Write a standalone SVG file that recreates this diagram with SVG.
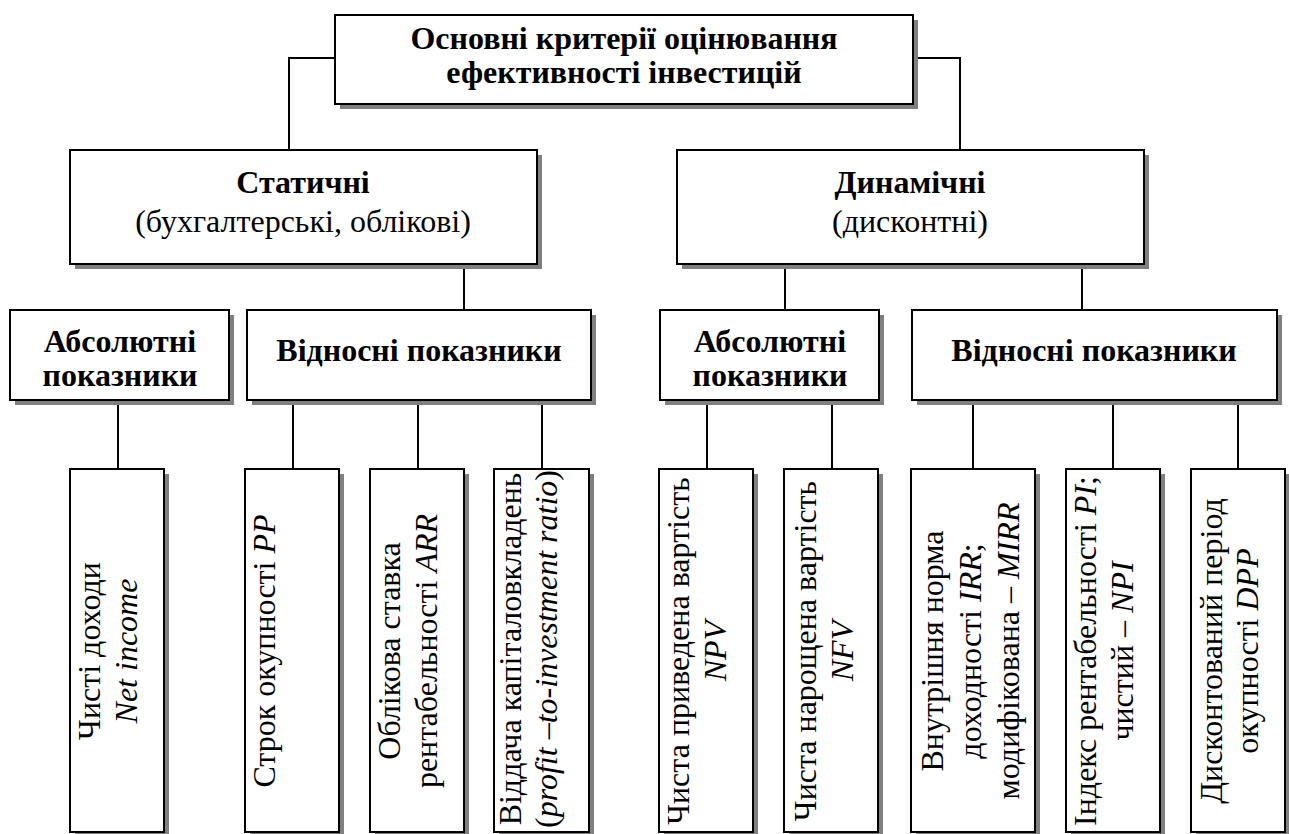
<svg xmlns="http://www.w3.org/2000/svg" width="1289" height="834" viewBox="0 0 1289 834">
  <style>
    .box { fill: #ffffff; stroke: #000000; stroke-width: 2; }
    .shadow { fill: #808080; }
    .wire { fill: none; stroke: #000000; stroke-width: 2; }
  </style>

  <!-- connectors -->
  <g id="connectors">
    <polyline class="wire" points="335,58 289,58 289,150"/>
    <polyline class="wire" points="913,58 960,58 960,150"/>
    <line class="wire" x1="464" y1="263" x2="464" y2="310"/>
    <line class="wire" x1="785" y1="263" x2="785" y2="310"/>
    <line class="wire" x1="1082" y1="263" x2="1082" y2="310"/>
    <line class="wire" x1="118" y1="400" x2="118" y2="469"/>
    <line class="wire" x1="293" y1="400" x2="293" y2="469"/>
    <line class="wire" x1="418" y1="400" x2="418" y2="469"/>
    <line class="wire" x1="542" y1="400" x2="542" y2="469"/>
    <line class="wire" x1="707" y1="400" x2="707" y2="469"/>
    <line class="wire" x1="832" y1="400" x2="832" y2="469"/>
    <line class="wire" x1="973" y1="400" x2="973" y2="469"/>
    <line class="wire" x1="1113" y1="400" x2="1113" y2="469"/>
    <line class="wire" x1="1238" y1="400" x2="1238" y2="469"/>
  </g>

  <!-- root -->
  <g id="root">
    <rect class="shadow" x="340" y="20" width="578" height="89"/>
    <rect class="box" x="335" y="15" width="578" height="89"/>
    <text font-family="Liberation Serif" font-size="32" font-weight="bold" text-anchor="middle" x="624" y="49">Основні критерії оцінювання</text>
    <text font-family="Liberation Serif" font-size="32" font-weight="bold" text-anchor="middle" x="624" y="83">ефективності інвестицій</text>
  </g>

  <!-- level 1 -->
  <g id="static">
    <rect class="shadow" x="75" y="155" width="467" height="114"/>
    <rect class="box" x="70" y="150" width="467" height="114"/>
    <text font-family="Liberation Serif" font-size="32" font-weight="bold" text-anchor="middle" x="303" y="193">Статичні</text>
    <text font-family="Liberation Serif" font-size="32" text-anchor="middle" x="303" y="232">(бухгалтерські, облікові)</text>
  </g>
  <g id="dynamic">
    <rect class="shadow" x="682" y="155" width="467" height="114"/>
    <rect class="box" x="677" y="150" width="467" height="114"/>
    <text font-family="Liberation Serif" font-size="32" font-weight="bold" text-anchor="middle" x="910" y="193">Динамічні</text>
    <text font-family="Liberation Serif" font-size="32" text-anchor="middle" x="910" y="232">(дисконтні)</text>
  </g>

  <!-- level 2 -->
  <g id="static-absolute">
    <rect class="shadow" x="15" y="315" width="219" height="90"/>
    <rect class="box" x="10" y="310" width="219" height="90"/>
    <text font-family="Liberation Serif" font-size="32" font-weight="bold" text-anchor="middle" x="120" y="352">Абсолютні</text>
    <text font-family="Liberation Serif" font-size="32" font-weight="bold" text-anchor="middle" x="120" y="386">показники</text>
  </g>
  <g id="static-relative">
    <rect class="shadow" x="252" y="315" width="344" height="90"/>
    <rect class="box" x="247" y="310" width="344" height="90"/>
    <text font-family="Liberation Serif" font-size="32" font-weight="bold" text-anchor="middle" x="419" y="361">Відносні показники</text>
  </g>
  <g id="dynamic-absolute">
    <rect class="shadow" x="665" y="315" width="219" height="90"/>
    <rect class="box" x="660" y="310" width="219" height="90"/>
    <text font-family="Liberation Serif" font-size="32" font-weight="bold" text-anchor="middle" x="770" y="352">Абсолютні</text>
    <text font-family="Liberation Serif" font-size="32" font-weight="bold" text-anchor="middle" x="770" y="386">показники</text>
  </g>
  <g id="dynamic-relative">
    <rect class="shadow" x="917" y="315" width="365" height="90"/>
    <rect class="box" x="912" y="310" width="365" height="90"/>
    <text font-family="Liberation Serif" font-size="32" font-weight="bold" text-anchor="middle" x="1094" y="361">Відносні показники</text>
  </g>

  <!-- level 3: indicators; each label group is turned a quarter left about its anchor -->
  <g id="net-income">
    <rect class="shadow" x="75" y="474" width="94" height="365"/>
    <rect class="box" x="70" y="469" width="94" height="363"/>
    <g transform="translate(100 651) rotate(-90)">
      <text font-family="Liberation Serif" font-size="32" text-anchor="middle" x="0" y="0">Чисті доходи</text>
      <text font-family="Liberation Serif" font-size="32" font-style="italic" text-anchor="middle" x="0" y="37">Net income</text>
    </g>
  </g>
  <g id="pp">
    <rect class="shadow" x="250" y="474" width="94" height="365"/>
    <rect class="box" x="245" y="469" width="94" height="363"/>
    <g transform="translate(275 651) rotate(-90)">
      <text font-family="Liberation Serif" font-size="32" text-anchor="middle" x="0" y="0">Строк окупності <tspan font-style="italic">PP</tspan></text>
    </g>
  </g>
  <g id="arr">
    <rect class="shadow" x="375" y="474" width="94" height="365"/>
    <rect class="box" x="370" y="469" width="94" height="363"/>
    <g transform="translate(400 651) rotate(-90)">
      <text font-family="Liberation Serif" font-size="32" text-anchor="middle" x="0" y="0">Облікова ставка</text>
      <text font-family="Liberation Serif" font-size="32" text-anchor="middle" x="0" y="37">рентабельності <tspan font-style="italic">ARR</tspan></text>
    </g>
  </g>
  <g id="profit-ratio">
    <rect class="shadow" x="499" y="474" width="95" height="365"/>
    <rect class="box" x="494" y="469" width="95" height="363"/>
    <g transform="translate(521 649) rotate(-90)">
      <text font-family="Liberation Serif" font-size="32" text-anchor="middle" x="0" y="0">Віддача капіталовкладень</text>
      <text font-family="Liberation Serif" font-size="32" text-anchor="middle" x="0" y="36">(<tspan font-style="italic">profit –to-investment ratio</tspan>)</text>
    </g>
  </g>
  <g id="npv">
    <rect class="shadow" x="664" y="474" width="94" height="365"/>
    <rect class="box" x="659" y="469" width="94" height="363"/>
    <g transform="translate(689 651) rotate(-90)">
      <text font-family="Liberation Serif" font-size="32" text-anchor="middle" x="0" y="0">Чиста приведена вартість</text>
      <text font-family="Liberation Serif" font-size="32" font-style="italic" text-anchor="middle" x="0" y="37">NPV</text>
    </g>
  </g>
  <g id="nfv">
    <rect class="shadow" x="789" y="474" width="94" height="365"/>
    <rect class="box" x="784" y="469" width="94" height="363"/>
    <g transform="translate(816 651) rotate(-90)">
      <text font-family="Liberation Serif" font-size="32" text-anchor="middle" x="0" y="0">Чиста нарощена вартість</text>
      <text font-family="Liberation Serif" font-size="32" font-style="italic" text-anchor="middle" x="0" y="37">NFV</text>
    </g>
  </g>
  <g id="irr">
    <rect class="shadow" x="916" y="474" width="124" height="365"/>
    <rect class="box" x="911" y="469" width="124" height="363"/>
    <g transform="translate(943 651) rotate(-90)">
      <text font-family="Liberation Serif" font-size="32" text-anchor="middle" x="0" y="0">Внутрішня норма</text>
      <text font-family="Liberation Serif" font-size="32" text-anchor="middle" x="0" y="38">доходності <tspan font-style="italic">IRR</tspan>;</text>
      <text font-family="Liberation Serif" font-size="32" text-anchor="middle" x="0" y="76">модифікована – <tspan font-style="italic">MIRR</tspan></text>
    </g>
  </g>
  <g id="pi">
    <rect class="shadow" x="1071" y="474" width="94" height="365"/>
    <rect class="box" x="1066" y="469" width="94" height="363"/>
    <g transform="translate(1096 651) rotate(-90)">
      <text font-family="Liberation Serif" font-size="32" text-anchor="middle" x="0" y="0">Індекс рентабельності <tspan font-style="italic">PI</tspan>;</text>
      <text font-family="Liberation Serif" font-size="32" text-anchor="middle" x="0" y="37">чистий – <tspan font-style="italic">NPI</tspan></text>
    </g>
  </g>
  <g id="dpp">
    <rect class="shadow" x="1196" y="474" width="94" height="365"/>
    <rect class="box" x="1191" y="469" width="94" height="363"/>
    <g transform="translate(1222 651) rotate(-90)">
      <text font-family="Liberation Serif" font-size="32" text-anchor="middle" x="0" y="0">Дисконтований період</text>
      <text font-family="Liberation Serif" font-size="32" text-anchor="middle" x="0" y="36">окупності <tspan font-style="italic">DPP</tspan></text>
    </g>
  </g>
</svg>
